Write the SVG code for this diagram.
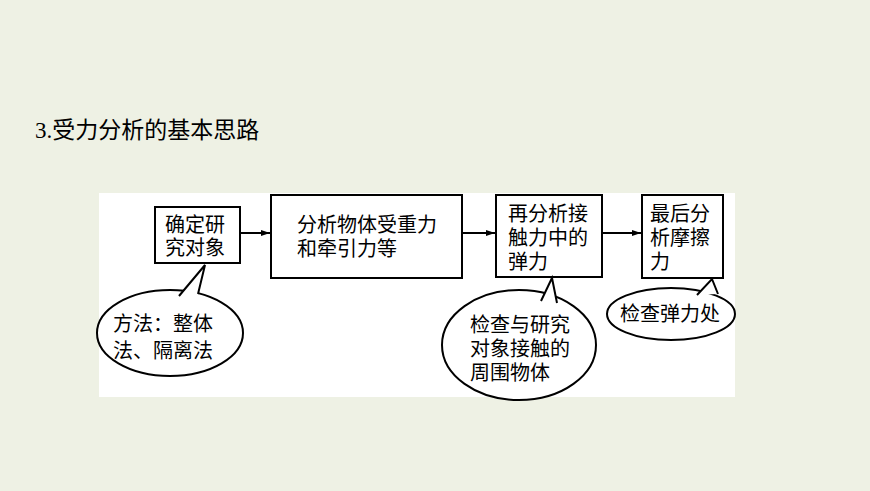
<svg xmlns="http://www.w3.org/2000/svg" width="870" height="491" viewBox="0 0 870 491">
<defs>
<marker id="ah" markerWidth="10" markerHeight="8" refX="9" refY="4" orient="auto" markerUnits="userSpaceOnUse"><path d="M0,1 L9,4 L0,7 Z" fill="#000"/></marker>
<style>
.b{fill:#fff;stroke:#000;stroke-width:2}
.t{font-family:"Liberation Serif","Noto Sans CJK SC",serif;font-size:20px;fill:#000}
.c{stroke:#000;stroke-width:2;fill:none}
.tail{fill:#fff;stroke:#000;stroke-width:2}
</style>
</defs>
<rect width="870" height="491" fill="#eef1e4"/>
<text x="35" y="138" style="font-family:'Liberation Serif','Noto Sans CJK SC',serif;font-size:23px">3.受力分析的基本思路</text>
<rect x="99" y="193" width="636" height="204" fill="#fff"/>
<g id="connectors">
<line class="c" x1="241" y1="233" x2="270" y2="233" marker-end="url(#ah)"/>
<line class="c" x1="463" y1="233" x2="495" y2="233" marker-end="url(#ah)"/>
<line class="c" x1="603" y1="233" x2="641" y2="233" marker-end="url(#ah)"/>
</g>
<g id="n1"><rect class="b" x="155" y="207" width="85" height="56"/><text class="t" x="165" y="232">确定研</text><text class="t" x="165" y="255">究对象</text></g>
<g id="n2"><rect class="b" x="271" y="195" width="191" height="83"/><text class="t" x="297" y="232">分析物体受重力</text><text class="t" x="297" y="256">和牵引力等</text></g>
<g id="n3"><rect class="b" x="496" y="195" width="106" height="82"/><text class="t" x="508" y="221">再分析接</text><text class="t" x="508" y="245">触力中的</text><text class="t" x="508" y="269">弹力</text></g>
<g id="n4"><rect class="b" x="642" y="195" width="81" height="83"/><text class="t" x="650" y="221">最后分</text><text class="t" x="650" y="245">析摩擦</text><text class="t" x="650" y="269">力</text></g>
<g id="c1"><ellipse class="b" cx="170" cy="333" rx="73" ry="43"/><path class="tail" d="M179,296 L205,265 L198,294"/><text class="t" x="113" y="331">方法：整体</text><text class="t" x="113" y="358">法、隔离法</text></g>
<g id="c2"><ellipse class="b" cx="519" cy="345" rx="77" ry="55"/><path class="tail" d="M541,301 L552,278 L557,303"/><text class="t" x="470" y="332">检查与研究</text><text class="t" x="470" y="356">对象接触的</text><text class="t" x="470" y="380">周围物体</text></g>
<g id="c3"><ellipse class="b" cx="671" cy="314" rx="64" ry="26"/><path class="tail" d="M697,295 L712,279 L718,294"/><text class="t" x="620" y="321">检查弹力处</text></g>
</svg>
